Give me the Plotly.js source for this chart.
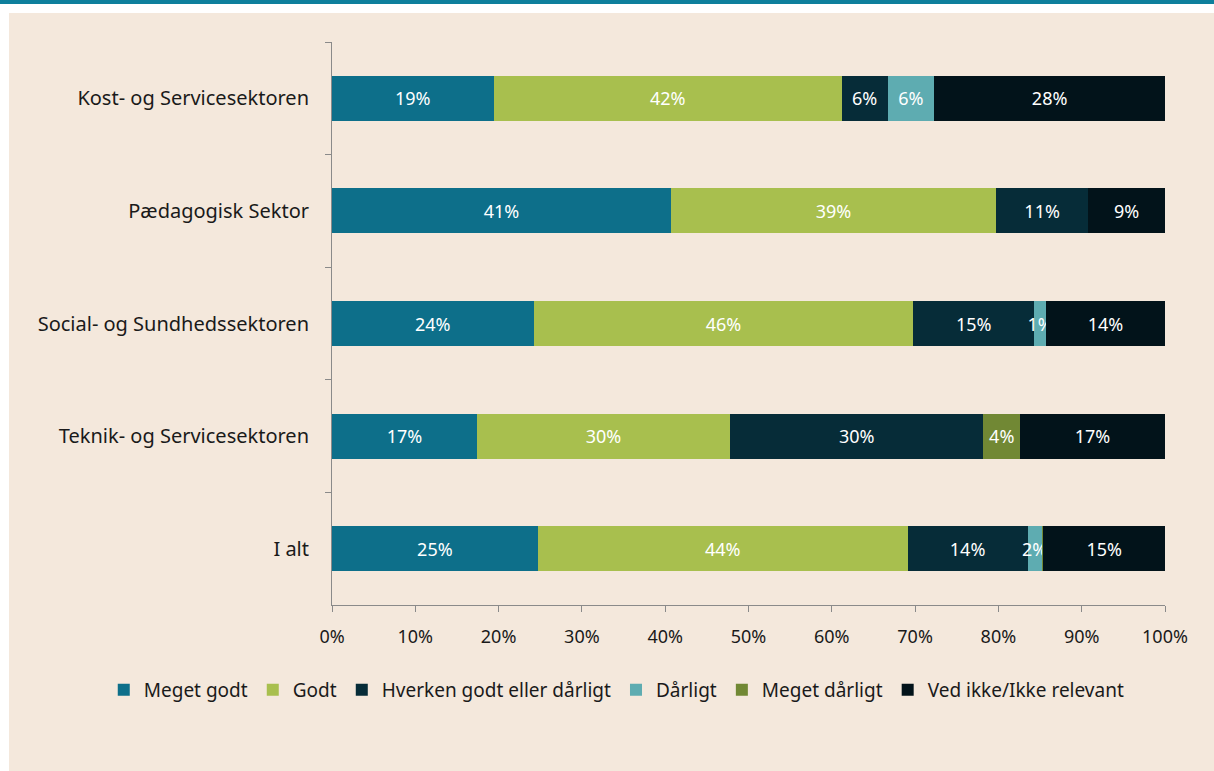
<!DOCTYPE html>
<html>
<head>
<meta charset="utf-8">
<script src="https://cdn.plot.ly/plotly-3.0.1.min.js"></script>
<style>
html,body{margin:0;padding:0;background:#ffffff;width:1214px;height:771px;overflow:hidden;}
#topbar{position:absolute;left:0;top:0;width:1214px;height:4px;background:#0e7f9c;}
#chart{position:absolute;left:9px;top:13px;width:1205px;height:758px;}
</style>
</head>
<body>
<div id="topbar"></div>
<div id="chart"></div>
<script>
const categories = ["Kost- og Servicesektoren","Pædagogisk Sektor","Social- og Sundhedssektoren","Teknik- og Servicesektoren","I alt"];
const seriesNames = ["Meget godt","Godt","Hverken godt eller dårligt","Dårligt","Meget dårligt","Ved ikke/Ikke relevant"];
const megetGodt   = [19.4, 40.7, 24.2, 17.4, 24.7];
const godt        = [41.8, 39.0, 45.6, 30.4, 44.4];
const hverken     = [5.5, 11.1, 14.5, 30.4, 14.4];
const daarligt    = [5.6, 0, 1.4, 0, 1.7];
const megetDaarligt = [0, 0, 0, 4.4, 0.2];
const vedIkke     = [27.7, 9.2, 14.3, 17.4, 14.6];
const xTickVals = [0,10,20,30,40,50,60,70,80,90,100];

const colors = ["#0d6f8a","#a8bf4e","#062c38","#5eacb1","#718834","#02131a"];
const allSeries = [megetGodt, godt, hverken, daarligt, megetDaarligt, vedIkke];
const FONT = "Noto Sans, DejaVu Sans, sans-serif";

const traces = allSeries.map((vals, i) => ({
  type: "bar",
  orientation: "h",
  name: seriesNames[i],
  y: categories,
  x: vals,
  text: vals.map(v => v >= 0.5 ? Math.round(v) + "%" : ""),
  textposition: "inside",
  insidetextanchor: "middle",
  textangle: 0,
  textfont: {color: "#ffffff", size: 18, family: FONT},
  marker: {color: colors[i]},
  hoverinfo: "skip",
  width: 0.4
}));

const layout = {
  width: 1205,
  height: 758,
  paper_bgcolor: "#f4e8dc",
  plot_bgcolor: "#f4e8dc",
  barmode: "stack",
  showlegend: true,
  uniformtext: {minsize: 18, mode: "show"},
  margin: {l: 323, r: 49, t: 29, b: 166},
  font: {family: FONT, size: 18, color: "#1a1a1a"},
  xaxis: {
    range: [0, 100],
    tickvals: xTickVals,
    ticktext: xTickVals.map(v => v + "%"),
    showgrid: false,
    zeroline: false,
    showline: true,
    linecolor: "#8a8a8a",
    linewidth: 1,
    ticks: "outside",
    ticklen: 6,
    tickcolor: "#8a8a8a",
    ticklabelstandoff: 9,
    tickfont: {size: 18, color: "#1a1a1a"},
    fixedrange: true
  },
  yaxis: {
    type: "category",
    autorange: "reversed",
    showgrid: false,
    zeroline: false,
    showline: true,
    linecolor: "#8a8a8a",
    linewidth: 1,
    ticks: "outside",
    tickson: "boundaries",
    ticklen: 6,
    tickcolor: "#8a8a8a",
    ticklabelstandoff: 18,
    tickfont: {size: 20, color: "#1a1a1a"},
    fixedrange: true
  },
  legend: {
    orientation: "h",
    x: -0.274,
    xanchor: "left",
    y: -0.151,
    yanchor: "middle",
    traceorder: "normal",
    bgcolor: "rgba(0,0,0,0)",
    font: {size: 19, color: "#1a1a1a"},
    itemwidth: 30,
    itemclick: false,
    itemdoubleclick: false
  }
};

Plotly.newPlot("chart", traces, layout, {displayModeBar: false, staticPlot: true});
</script>
</body>
</html>
